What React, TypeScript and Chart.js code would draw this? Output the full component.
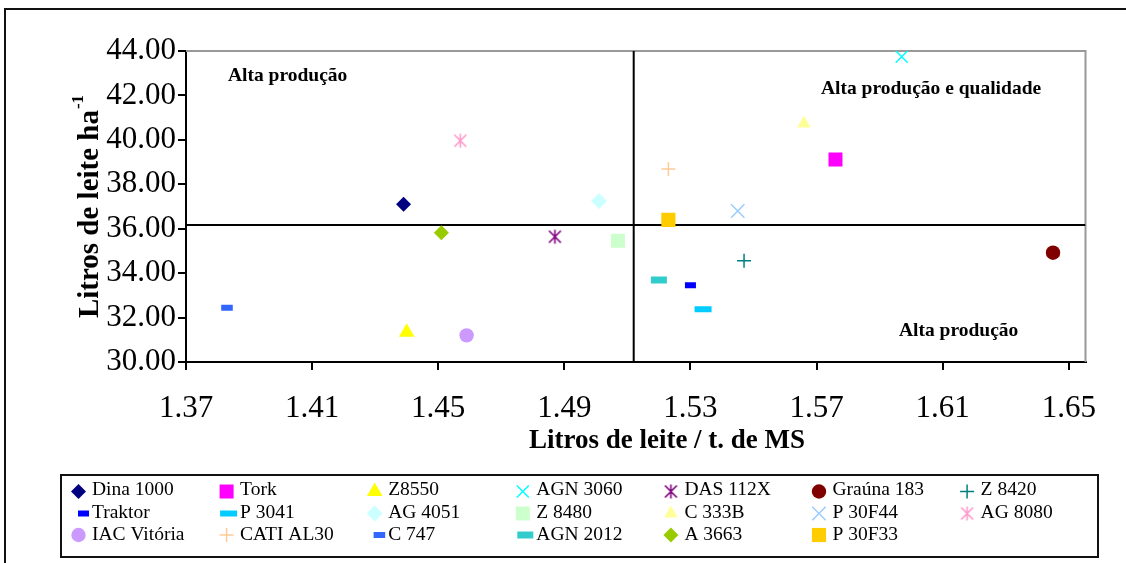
import React, { useEffect, useRef } from 'react';
import { Chart, registerables } from 'chart.js';
import { drawPoint } from 'chart.js/helpers';

Chart.register(...registerables);

// ---- data ----
const cultivares = [
  'Dina 1000', 'Tork', 'Z8550', 'AGN 3060', 'DAS 112X', 'Graúna 183', 'Z 8420',
  'Traktor', 'P 3041', 'AG 4051', 'Z 8480', 'C 333B', 'P 30F44', 'AG 8080',
  'IAC Vitória', 'CATI AL30', 'C 747', 'AGN 2012', 'A 3663', 'P 30F33',
];
// Litros de leite / t. de MS
const leitePorTonMS = [
  1.439, 1.576, 1.440, 1.597, 1.487, 1.645, 1.547,
  1.530, 1.534, 1.501, 1.507, 1.566, 1.545, 1.457,
  1.459, 1.523, 1.383, 1.520, 1.451, 1.523,
];
// Litros de leite ha-1
const leitePorHa = [
  37.10, 39.12, 31.34, 43.74, 35.64, 34.92, 34.56,
  33.45, 32.37, 37.25, 35.46, 40.74, 36.80, 39.96,
  31.20, 38.69, 32.44, 33.69, 35.82, 36.40,
];
// quadrant dividing lines
const mediaLeiteTon = 1.512;
const mediaLeiteHa = 36.17;

const xTicks = [1.37, 1.41, 1.45, 1.49, 1.53, 1.57, 1.61, 1.65];
const yTicks = [30, 32, 34, 36, 38, 40, 42, 44];
const xLimits = [1.37, 1.6553];
const yLimits = [30, 44];

const quadrantes = ['Alta produção', 'Alta produção e qualidade', 'Alta produção'];
const xTitle = 'Litros de leite / t. de MS';
const yTitle = 'Litros de leite ha';

// ---- styles (marker shape, colour, size) ----
type Estilo = { shape: string; color: string; r: number; bw?: number };
const estilos: Estilo[] = [
  { shape: 'rectRot', color: '#000080', r: 7.5 },
  { shape: 'rect', color: '#FF00FF', r: 9.9 },
  { shape: 'triangle', color: '#FFFF00', r: 9 },
  { shape: 'crossRot', color: '#00FFFF', r: 8.5, bw: 1.5 },
  { shape: 'asterisk', color: '#800080', r: 7 },
  { shape: 'circle', color: '#800000', r: 7.2 },
  { shape: 'cross', color: '#008080', r: 7, bw: 1.5 },
  { shape: 'line', color: '#0000FF', r: 5.5, bw: 6 },
  { shape: 'line', color: '#00CCFF', r: 8.5, bw: 6 },
  { shape: 'rectRot', color: '#CCFFFF', r: 8 },
  { shape: 'rect', color: '#CCFFCC', r: 9.9 },
  { shape: 'triangle', color: '#FFFF99', r: 8 },
  { shape: 'crossRot', color: '#99CCFF', r: 9.5, bw: 1.5 },
  { shape: 'asterisk', color: '#FF99CC', r: 7 },
  { shape: 'circle', color: '#CC99FF', r: 7.2 },
  { shape: 'cross', color: '#FFCC99', r: 7, bw: 1.5 },
  { shape: 'line', color: '#3366FF', r: 5.8, bw: 6 },
  { shape: 'line', color: '#33CCCC', r: 8, bw: 7 },
  { shape: 'rectRot', color: '#99CC00', r: 7.5 },
  { shape: 'rect', color: '#FFCC00', r: 10 },
];

const SERIF = "'Liberation Serif', 'Times New Roman', serif";

function makeAsterisk(color: string, r: number): HTMLCanvasElement {
  const size = Math.ceil(2 * r + 3);
  const c = document.createElement('canvas');
  c.width = size;
  c.height = size;
  const g = c.getContext('2d')!;
  g.strokeStyle = color;
  g.lineWidth = 1.6;
  const m = size / 2;
  const dx = r * 0.85;
  const dy = r * 0.85;
  g.beginPath();
  g.moveTo(m, m - r);
  g.lineTo(m, m + r);
  g.moveTo(m - dx, m - dy);
  g.lineTo(m + dx, m + dy);
  g.moveTo(m + dx, m - dy);
  g.lineTo(m - dx, m + dy);
  g.stroke();
  return c;
}

export default function App() {
  const ref = useRef<HTMLCanvasElement>(null);

  useEffect(() => {
    const canvas = ref.current!;
    const pointStyles = estilos.map((s) =>
      s.shape === 'asterisk' ? makeAsterisk(s.color, s.r) : s.shape
    );
    const filledShapes = ['rect', 'rectRot', 'triangle', 'circle'];

    const pointDatasets = cultivares.map((name, i) => {
      const st = estilos[i];
      const filled = filledShapes.includes(st.shape);
      return {
        label: name,
        data: [{ x: leitePorTonMS[i], y: leitePorHa[i] }],
        pointStyle: pointStyles[i] as any,
        pointRadius: st.r,
        pointHoverRadius: st.r,
        backgroundColor: st.color,
        borderColor: st.color,
        borderWidth: filled ? 0 : st.bw ?? 1,
        order: 0,
      };
    });

    const lineDatasets = [
      {
        label: 'vline',
        data: [
          { x: mediaLeiteTon, y: yLimits[0] },
          { x: mediaLeiteTon, y: yLimits[1] },
        ],
        showLine: true,
        pointRadius: 0,
        borderColor: '#000',
        borderWidth: 2,
        order: 1,
      },
      {
        label: 'hline',
        data: [
          { x: xLimits[0], y: mediaLeiteHa },
          { x: xLimits[1], y: mediaLeiteHa },
        ],
        showLine: true,
        pointRadius: 0,
        borderColor: '#000',
        borderWidth: 2,
        order: 1,
      },
    ];

    const decor = {
      id: 'decor',
      beforeDraw(chart: any) {
        const { ctx } = chart;
        ctx.save();
        ctx.fillStyle = '#fff';
        ctx.fillRect(0, 0, chart.width, chart.height);
        // outer frame (cut by page edge)
        ctx.strokeStyle = '#111';
        ctx.lineWidth = 2;
        ctx.beginPath();
        ctx.moveTo(1126, 9);
        ctx.lineTo(5, 9);
        ctx.lineTo(5, 563);
        ctx.stroke();
        ctx.restore();
      },
      beforeDatasetsDraw(chart: any) {
        const { ctx, chartArea: a } = chart;
        ctx.save();
        ctx.strokeStyle = '#999';
        ctx.lineWidth = 2;
        ctx.beginPath();
        ctx.moveTo(a.left, a.top);
        ctx.lineTo(a.right, a.top);
        ctx.lineTo(a.right, a.bottom);
        ctx.stroke();
        ctx.restore();
      },
      afterDraw(chart: any) {
        const { ctx } = chart;
        ctx.save();
        // quadrant labels
        ctx.fillStyle = '#000';
        ctx.font = `bold 19.5px ${SERIF}`;
        ctx.textBaseline = 'alphabetic';
        ctx.textAlign = 'left';
        ctx.fillText(quadrantes[0], 228, 81);
        ctx.fillText(quadrantes[1], 821, 94);
        ctx.fillText(quadrantes[2], 899, 336);

        // x axis title
        ctx.font = `bold 27px ${SERIF}`;
        ctx.textAlign = 'center';
        ctx.textBaseline = 'middle';
        ctx.fillText(xTitle, 667, 441);

        // y axis title with superscript
        ctx.save();
        ctx.translate(88, 207);
        ctx.rotate(-Math.PI / 2);
        ctx.font = `bold 29px ${SERIF}`;
        const w1 = ctx.measureText(yTitle).width;
        ctx.font = `bold 17px ${SERIF}`;
        const w2 = ctx.measureText('-1').width;
        const start = -(w1 + w2) / 2;
        ctx.textAlign = 'left';
        ctx.textBaseline = 'alphabetic';
        ctx.font = `bold 29px ${SERIF}`;
        ctx.fillText(yTitle, start, 10);
        ctx.font = `bold 17px ${SERIF}`;
        ctx.fillText('-1', start + w1 + 1, -5);
        ctx.restore();

        // legend box
        ctx.fillStyle = '#fff';
        ctx.fillRect(61, 475, 1037, 82);
        ctx.strokeStyle = '#111';
        ctx.lineWidth = 2;
        ctx.strokeRect(61, 475, 1037, 82);

        const baselines = [495, 517.5, 539.5];
        const markerYs = [491.5, 513.5, 535];
        chart.data.datasets.forEach((ds: any, i: number) => {
          if (i >= cultivares.length) return;
          const st = estilos[i];
          const col = i % 7;
          const row = Math.floor(i / 7);
          const tx = 92 + col * 148.1;
          const mx = st.shape === 'line' ? tx - 3 - st.r : tx - 13.5;
          const my = markerYs[row];
          const filled = filledShapes.includes(st.shape);
          const bw = filled ? 0 : st.bw ?? 1;
          ctx.save();
          ctx.fillStyle = st.color;
          ctx.strokeStyle = st.color;
          ctx.lineWidth = bw;
          drawPoint(ctx, { pointStyle: pointStyles[i] as any, radius: st.r, rotation: 0, borderWidth: bw } as any, mx, my);
          ctx.restore();
          ctx.fillStyle = '#000';
          ctx.font = `19.5px ${SERIF}`;
          ctx.textAlign = 'left';
          ctx.textBaseline = 'alphabetic';
          ctx.fillText(ds.label, tx, baselines[row]);
        });
        ctx.restore();
      },
    };

    const tickFont = { family: SERIF, size: 31 };

    const chart = new Chart(canvas, {
      type: 'scatter',
      data: { datasets: [...pointDatasets, ...lineDatasets] as any },
      options: {
        responsive: false,
        maintainAspectRatio: false,
        animation: false,
        devicePixelRatio: 1,
        events: [],
        layout: { padding: { left: 0, top: 51, right: 40.5, bottom: 121 } },
        plugins: { legend: { display: false }, tooltip: { enabled: false } },
        scales: {
          x: {
            type: 'linear',
            position: 'bottom',
            min: xLimits[0],
            max: xLimits[1],
            afterBuildTicks: (s: any) => {
              s.ticks = xTicks.map((v) => ({ value: v }));
            },
            afterFit: (s: any) => {
              s.height = 80;
            },
            ticks: {
              font: tickFont,
              color: '#000',
              padding: 20,
              autoSkip: false,
              maxRotation: 0,
              callback: (v: any) => Number(v).toFixed(2),
            },
            grid: { drawOnChartArea: false, drawTicks: true, tickLength: 8, color: '#000', lineWidth: 2 },
            border: { display: true, color: '#000', width: 2 },
          },
          y: {
            type: 'linear',
            position: 'left',
            min: yLimits[0],
            max: yLimits[1],
            afterBuildTicks: (s: any) => {
              s.ticks = yTicks.map((v) => ({ value: v }));
            },
            afterFit: (s: any) => {
              s.width = 186;
            },
            ticks: {
              font: tickFont,
              color: '#000',
              padding: 2,
              autoSkip: false,
              callback: (v: any) => Number(v).toFixed(2),
            },
            grid: { drawOnChartArea: false, drawTicks: true, tickLength: 8, color: '#000', lineWidth: 2 },
            border: { display: true, color: '#000', width: 2 },
          },
        },
      } as any,
      plugins: [decor],
    });

    return () => chart.destroy();
  }, []);

  return (
    <div style={{ position: 'fixed', left: 0, top: 0, width: 1126, height: 563, background: '#fff' }}>
      <canvas ref={ref} width={1126} height={563} style={{ display: 'block' }} />
    </div>
  );
}
